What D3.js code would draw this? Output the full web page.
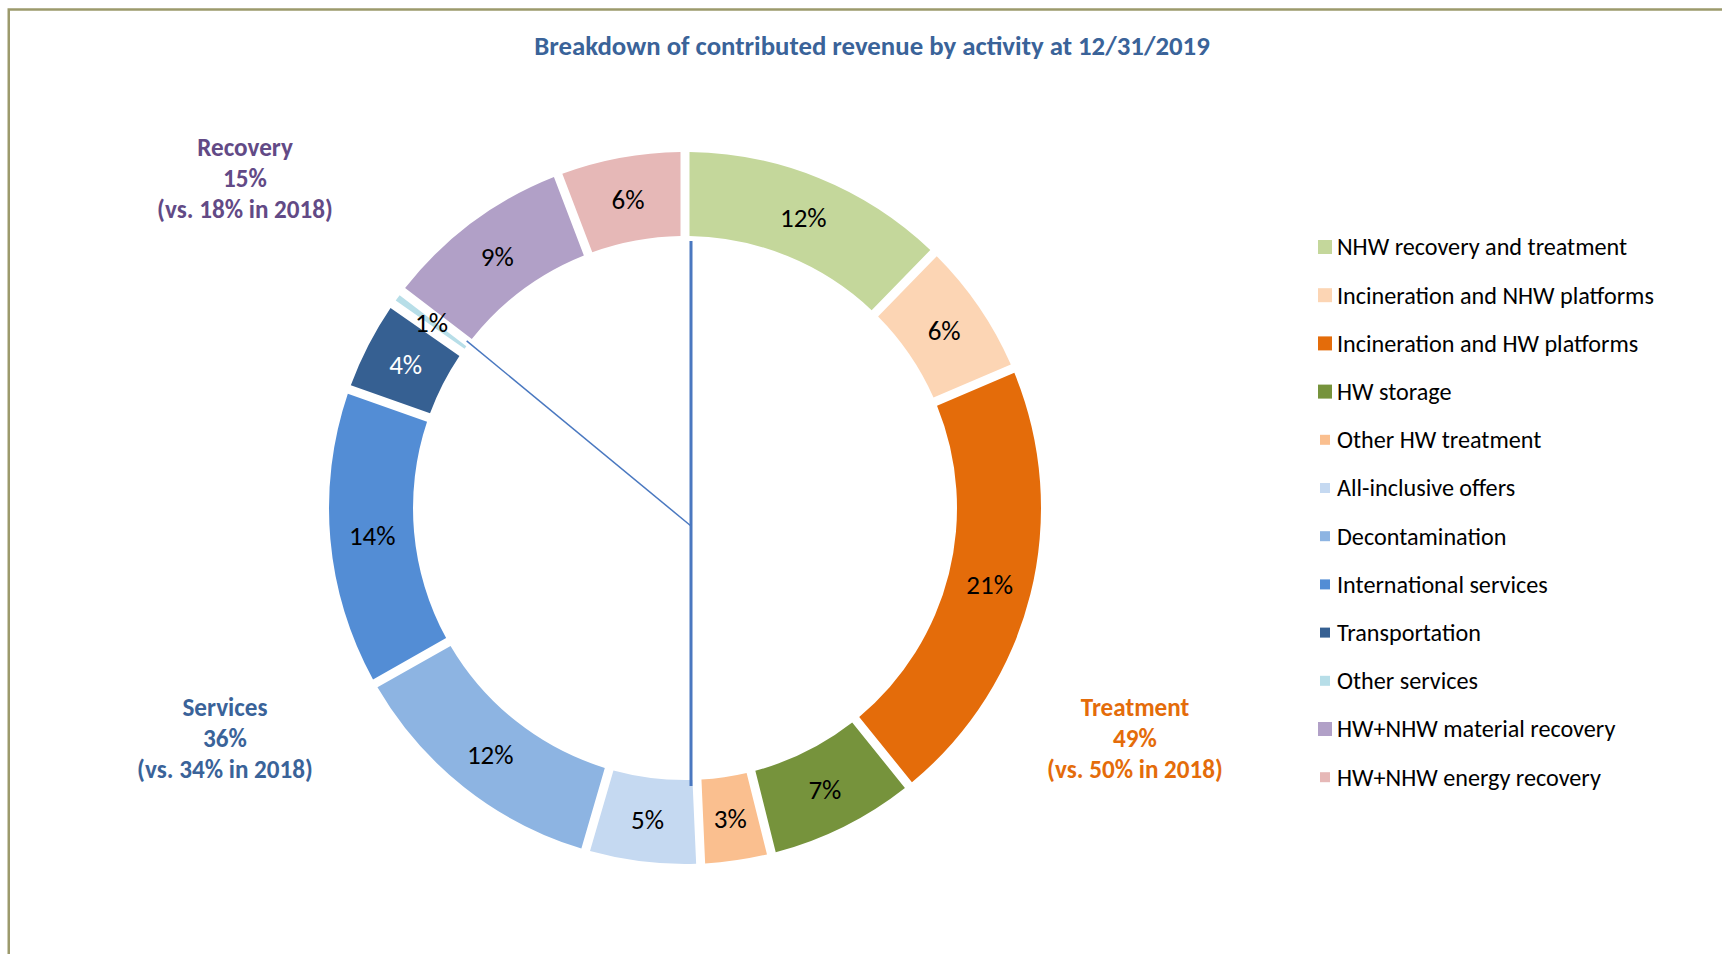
<!DOCTYPE html>
<html>
<head>
<meta charset="utf-8">
<script src="https://cdn.jsdelivr.net/npm/d3@7"></script>
<style>
  html, body { margin: 0; padding: 0; background: #fff; overflow: hidden; }
  svg { display: block; }
  text { font-family: Calibri, Carlito, Lato, "Open Sans", sans-serif; }
</style>
</head>
<body>
<svg id="chart" width="1722" height="954"></svg>
<script>
// ---------------- data ----------------
const title = "Breakdown of contributed revenue by activity at 12/31/2019";
const categories = [
  "NHW recovery and treatment",
  "Incineration and NHW platforms",
  "Incineration and HW platforms",
  "HW storage",
  "Other HW treatment",
  "All-inclusive offers",
  "Decontamination",
  "International services",
  "Transportation",
  "Other services",
  "HW+NHW material recovery",
  "HW+NHW energy recovery"
];
const values = [12.3, 6.3, 20.6, 6.9, 3.2, 5.2, 12.3, 13.6, 4.3, 0.7, 8.8, 5.8];
const colors = ["#c4d79b", "#fcd5b4", "#e46c0a", "#76933c", "#fabf8f", "#c5d9f1",
                "#8db4e2", "#538dd5", "#366092", "#b7dee8", "#b1a0c7", "#e6b8b7"];
const groupNames = ["Treatment", "Services", "Recovery"];
const groupShares = ["49%", "36%", "15%"];
const groupPrior = ["(vs. 50% in 2018)", "(vs. 34% in 2018)", "(vs. 18% in 2018)"];
const groupColors = ["#e46c0a", "#3a6399", "#624a86"];

// ---------------- layout ----------------
(function () {
const svg = d3.select("#chart");
const cx = 685, cy = 508, rOuter = 356, rInner = 272;

// frame (clipped by viewport on right/bottom)
svg.append("rect")
  .attr("x", 8.75).attr("y", 9.5)
  .attr("width", 1800).attr("height", 1000)
  .attr("fill", "none").attr("stroke", "#9c9a6c").attr("stroke-width", 2.5);

function fit(sel, target) {
  const w = sel.node().getComputedTextLength();
  const fs = parseFloat(sel.attr("font-size"));
  sel.attr("font-size", fs * target / w);
}

// title
const t = svg.append("text")
  .attr("x", 872).attr("y", 55)
  .attr("text-anchor", "middle")
  .attr("font-weight", "bold")
  .attr("font-size", 22)
  .attr("fill", "#3a6399")
  .text(title);
fit(t, 676);

// pie
const pie = d3.pie().sort(null).value(d => d)
  .startAngle(0).endAngle(2 * Math.PI);
const arcs = pie(values);
const arc = d3.arc().innerRadius(rInner).outerRadius(rOuter)
  .padRadius(300).padAngle(9 / 300);

const g = svg.append("g").attr("transform", `translate(${cx},${cy})`);
g.selectAll("path.slice").data(arcs).join("path")
  .attr("class", "slice")
  .attr("d", arc)
  .attr("fill", (d, i) => colors[i]);

// value labels
const darkIdx = new Set([8]);
const lbls = g.selectAll("text.val").data(arcs).join("text")
  .attr("class", "val")
  .attr("transform", d => `translate(${arc.centroid(d)})`)
  .attr("text-anchor", "middle")
  .attr("dy", "0.35em")
  .attr("font-size", 22)
  .attr("fill", (d, i) => darkIdx.has(i) ? "#ffffff" : "#000000")
  .text(d => Math.round(d.value) + "%");
{
  const probe = lbls.filter((d, i) => i === 1);
  const w = probe.node().getComputedTextLength();
  lbls.attr("font-size", 22 * 33 / w);
}

// group divider annotations
const polar = (r, a) => [r * Math.sin(a), -r * Math.cos(a)];
const nTreat = 5, nServ = 5;
const recStart = arcs[nTreat + nServ].startAngle;
const topPt = polar(rInner - 2, 0);
g.append("line")
  .attr("x1", topPt[0] + 6).attr("y1", topPt[1] + 3)
  .attr("x2", topPt[0] + 6).attr("y2", rInner + 6)
  .attr("stroke", "#4a78c0").attr("stroke-width", 3);
const dStart = polar(rInner + 3, recStart);
g.append("line")
  .attr("x1", dStart[0]).attr("y1", dStart[1])
  .attr("x2", 6).attr("y2", 18)
  .attr("stroke", "#4a78c0").attr("stroke-width", 1.5);

// group labels
const groupPos = [[1135, 716], [225, 716], [245, 156]];
groupNames.forEach((name, k) => {
  const lines = [name, groupShares[k], groupPrior[k]];
  const txt = lines.map((s, j) => svg.append("text")
    .attr("x", groupPos[k][0]).attr("y", groupPos[k][1] + j * 31)
    .attr("text-anchor", "middle")
    .attr("font-weight", "bold")
    .attr("font-size", 21)
    .attr("fill", groupColors[k])
    .text(s));
  const w = txt[2].node().getComputedTextLength();
  const fs = 21 * 176 / w;
  txt.forEach(s => s.attr("font-size", fs));
});

// legend
const smallKey = new Set([4, 5, 6, 7, 8, 9, 11]);
const leg = svg.append("g");
const items = leg.selectAll("g").data(categories).join("g")
  .attr("transform", (d, i) => `translate(1318, ${247 + i * 48.2})`);
items.append("rect")
  .attr("x", (d, i) => smallKey.has(i) ? 2 : 0)
  .attr("y", (d, i) => smallKey.has(i) ? -5 : -7)
  .attr("width", (d, i) => smallKey.has(i) ? 10 : 14)
  .attr("height", (d, i) => smallKey.has(i) ? 10 : 14)
  .attr("fill", (d, i) => colors[i]);
const legText = items.append("text")
  .attr("x", 19).attr("dy", "0.35em")
  .attr("font-size", 20)
  .attr("fill", "#000")
  .text(d => d);
{
  const w = legText.filter((d, i) => i === 1).node().getComputedTextLength();
  legText.attr("font-size", 20 * 317 / w);
}
})();
</script>
</body>
</html>
